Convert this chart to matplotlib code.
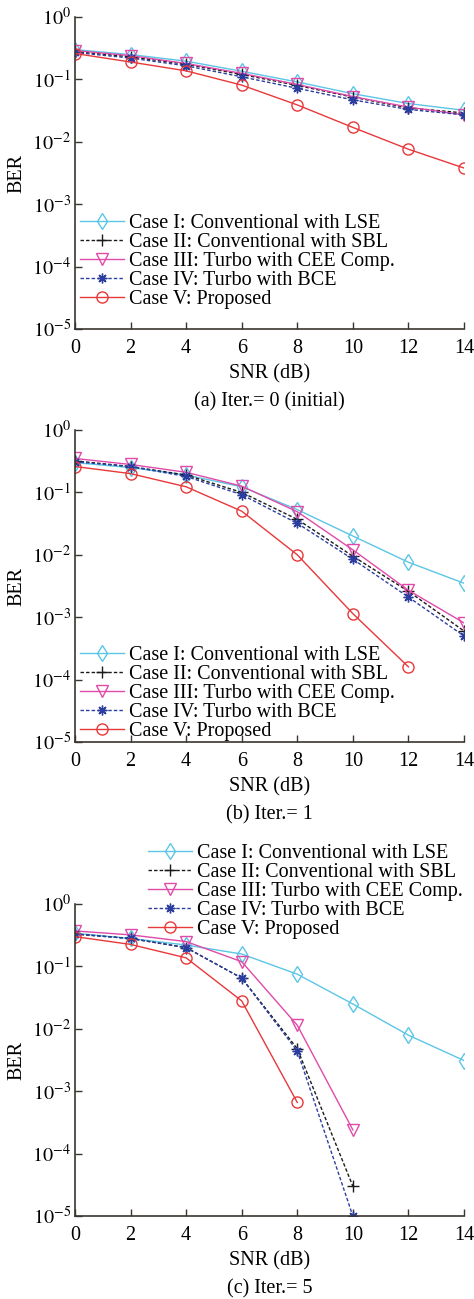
import numpy as np
import matplotlib
matplotlib.use("Agg")
import matplotlib.pyplot as plt
from matplotlib.ticker import FixedLocator, FuncFormatter

plt.rcParams['font.family'] = ['Liberation Serif', 'DejaVu Serif']
plt.rcParams['mathtext.fontset'] = 'stix'

# SNR grid
snr = [0, 2, 4, 6, 8, 10, 12, 14]

labels = ["Case I: Conventional with LSE",
          "Case II: Conventional with SBL",
          "Case III: Turbo with CEE Comp.",
          "Case IV: Turbo with BCE",
          "Case V: Proposed"]

# (a) Iter. = 0
a_case1 = [0.30, 0.25, 0.196, 0.135, 0.091, 0.059, 0.041, 0.032]
a_case2 = [0.28, 0.23, 0.175, 0.12, 0.080, 0.052, 0.035, 0.029]
a_case3 = [0.29, 0.24, 0.18, 0.125, 0.083, 0.053, 0.036, 0.027]
a_case4 = [0.27, 0.22, 0.165, 0.11, 0.072, 0.047, 0.033, 0.027]
a_case5 = [0.26, 0.19, 0.137, 0.081, 0.039, 0.017, 0.0076, 0.0038]

# (b) Iter. = 1
b_case1 = [0.30, 0.25, 0.19, 0.123, 0.053, 0.020, 0.0076, 0.0035]
b_case2 = [0.32, 0.26, 0.19, 0.10, 0.037, 0.0095, 0.0026, 0.0006]
b_case3 = [0.35, 0.28, 0.21, 0.126, 0.049, 0.012, 0.0027, 0.00081]
b_case4 = [0.31, 0.26, 0.18, 0.092, 0.032, 0.0085, 0.0021, 0.0005]
b_case5 = [0.26, 0.20, 0.123, 0.050, 0.010, 0.00114, 0.00016]

# (c) Iter. = 5
c_case1 = [0.34, 0.28, 0.22, 0.158, 0.075, 0.025, 0.0079, 0.0031]
c_case2 = [0.33, 0.28, 0.20, 0.065, 0.0048, 3.0e-5]
c_case3 = [0.37, 0.32, 0.25, 0.119, 0.0114, 0.00024]
c_case4 = [0.33, 0.28, 0.20, 0.065, 0.0044, 1.0e-5]
c_case5 = [0.30, 0.225, 0.137, 0.028, 0.00066]

styles = [
    dict(color='#5cc6e6', ls='-', marker='d', mfc='none', ms=8),
    dict(color='#1a1a1a', ls=(0, (2.5, 1.5)), marker='+', ms=8),
    dict(color='#e04aa8', ls='-', marker='v', mfc='none', ms=8),
    dict(color='#2b3ea0', ls=(0, (2.5, 1.5)), marker=(8, 2, 0), ms=7),
    dict(color='#e8383a', ls='-', marker='o', mfc='none', ms=8),
]

W, H = 474, 1299
fig = plt.figure(figsize=(W / 100, H / 100), dpi=100)

axcol = '#3a3530'
fs = 14.5


def panel(top_px, data, caption, leg_xy, leg_top_px):
    ax = fig.add_axes([75 / W, 1 - (top_px + 312) / H, 389 / W, 312 / H])
    for vals, st, lab in zip(data, styles, labels):
        ax.semilogy(snr[:len(vals)], vals, lw=1.0, mew=1.0, label=lab, **st)
    ax.set_xlim(0, 14)
    ax.set_ylim(1e-5, 1)
    ax.set_xticks(snr)
    ax.yaxis.set_major_locator(FixedLocator([10.0 ** k for k in range(-5, 1)]))
    ax.yaxis.set_minor_locator(FixedLocator([]))
    ax.yaxis.set_major_formatter(FuncFormatter(lambda v, p: r'$10^{%d}$' % round(np.log10(v))))
    for s in ['top', 'right']:
        ax.spines[s].set_visible(False)
    for s in ['left', 'bottom']:
        ax.spines[s].set_color(axcol)
        ax.spines[s].set_linewidth(1.2)
    ax.tick_params(direction='in', length=5, width=1.0, color=axcol,
                   labelsize=fs, pad=3)
    ax.tick_params(axis='x', pad=7)
    ax.set_ylabel('BER', fontsize=fs, labelpad=4)
    ax.set_xlabel('SNR (dB)', fontsize=fs, labelpad=5)
    ax.text(0.5, -73 / 312, caption, transform=ax.transAxes, ha='center',
            va='center', fontsize=fs)
    fig.legend(*ax.get_legend_handles_labels(), loc='upper left',
               bbox_to_anchor=(leg_xy / W, 1 - leg_top_px / H),
               frameon=False, fontsize=fs, borderpad=0, borderaxespad=0,
               handlelength=2.2, handletextpad=0.25, labelspacing=0.0)
    return ax


panel(17, [a_case1, a_case2, a_case3, a_case4, a_case5],
      '(a) Iter.= 0 (initial)', 80, 214)
panel(430, [b_case1, b_case2, b_case3, b_case4, b_case5],
      '(b) Iter.= 1', 80, 646)
panel(904, [c_case1, c_case2, c_case3, c_case4, c_case5],
      '(c) Iter.= 5', 148, 844)

fig.savefig('out.png', dpi=100)
